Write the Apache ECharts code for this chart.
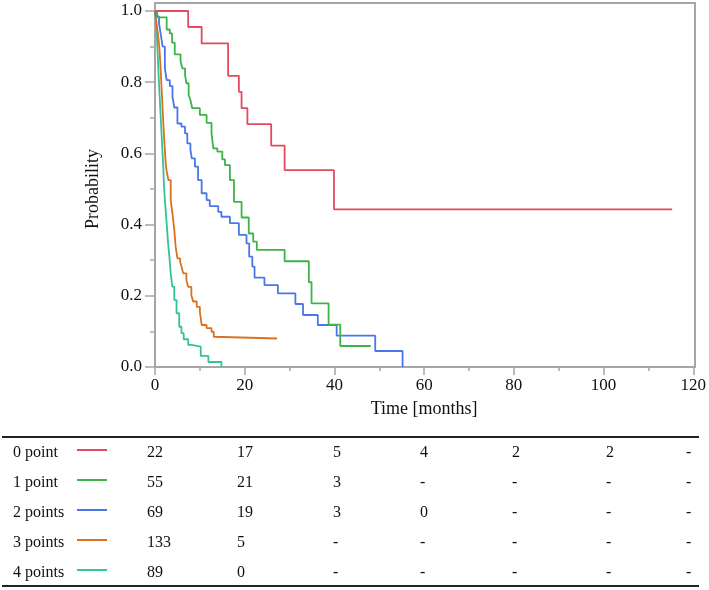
<!DOCTYPE html>
<html>
<head>
<meta charset="utf-8">
<script src="https://cdn.jsdelivr.net/npm/echarts@6/dist/echarts.min.js"></script>
<style>
  html, body { margin: 0; padding: 0; background: #fff; }
  #chart { width: 709px; height: 590px; }
</style>
</head>
<body>
<div id="chart"></div>
<script>
// Kaplan-Meier steps: [months, probability]
const km0 = [[0, 1], [7.4, 0.955], [10.4, 0.909], [16.3, 0.818], [18.7, 0.773], [19.3, 0.727], [20.6, 0.682],
  [25.9, 0.622], [28.9, 0.553], [39.9, 0.443], [115.3, 0.443]]
const km1 = [[0, 1], [0.5, 0.982], [2.6, 0.948], [3.3, 0.937], [3.8, 0.911], [4.4, 0.878], [5.7, 0.858], [6.1, 0.839],
  [6.7, 0.820], [7.0, 0.797], [7.5, 0.764], [7.9, 0.750], [8.3, 0.727], [10.0, 0.708], [11.5, 0.686], [12.6, 0.656],
  [13.0, 0.614], [13.9, 0.605], [15.0, 0.583], [15.6, 0.567], [16.7, 0.525], [17.6, 0.464], [19.3, 0.420],
  [20.9, 0.375], [21.9, 0.352], [22.7, 0.329], [28.9, 0.297], [34.3, 0.238], [34.9, 0.179], [38.7, 0.119],
  [41.3, 0.059], [48.1, 0.059]]
const km2 = [[0, 1], [0.4, 0.985], [0.9, 0.965], [1.3, 0.933], [1.7, 0.900], [2.2, 0.839], [2.6, 0.806], [3.3, 0.789],
  [3.9, 0.759], [4.3, 0.729], [5.0, 0.684], [5.9, 0.675], [6.7, 0.656], [7.2, 0.628], [7.9, 0.610], [8.2, 0.586],
  [8.9, 0.563], [9.6, 0.525], [10.4, 0.488], [11.5, 0.469], [12.2, 0.452], [14.1, 0.436], [14.8, 0.422],
  [16.7, 0.404], [18.7, 0.371], [20.4, 0.347], [21.0, 0.310], [21.7, 0.282], [22.2, 0.251], [24.4, 0.230],
  [27.4, 0.207], [31.3, 0.177], [33.0, 0.146], [36.3, 0.118], [40.5, 0.088], [49.1, 0.045], [55.2, 0]]
const km3 = [[0, 1], [0.2, 0.98], [0.4, 0.96], [0.6, 0.94], [0.8, 0.92], [1.0, 0.89], [1.2, 0.85], [1.4, 0.80],
  [1.6, 0.75], [1.8, 0.70], [2.0, 0.65], [2.2, 0.61], [2.4, 0.57], [2.6, 0.55], [3.0, 0.525], [3.5, 0.469],
  [3.9, 0.431], [4.3, 0.385], [4.6, 0.338], [5.0, 0.305], [5.6, 0.296], [5.9, 0.282], [6.3, 0.263], [7.0, 0.244],
  [7.4, 0.225], [8.1, 0.202], [8.5, 0.184], [9.3, 0.169], [10.0, 0.155], [10.4, 0.118], [11.5, 0.109],
  [12.6, 0.099], [13.1, 0.085], [13.3, 0.080], [27.2, 0.080]]
const km4 = [[0, 1], [0.2, 0.97], [0.4, 0.93], [0.6, 0.88], [0.8, 0.82], [1.0, 0.77], [1.2, 0.72], [1.4, 0.67],
  [1.6, 0.62], [1.85, 0.56], [2.0, 0.51], [2.2, 0.469], [2.6, 0.404], [2.9, 0.35], [3.2, 0.31], [3.5, 0.263],
  [3.85, 0.226], [4.3, 0.188], [4.8, 0.151], [5.4, 0.113], [5.9, 0.095], [6.4, 0.078], [7.4, 0.062], [8.1, 0.057],
  [10.2, 0.031], [11.9, 0.014], [14.8, 0]]

const groups = ['0 point', '1 point', '2 points', '3 points', '4 points']
const colors = ['#e34a5e', '#3db34a', '#4a76e8', '#dc7020', '#33c39a']
// numbers at risk at 0, 20, 40, ... 120 months
const atRisk = [
  ['22', '17', '5', '4', '2', '2', '-'],
  ['55', '21', '3', '-', '-', '-', '-'],
  ['69', '19', '3', '0', '-', '-', '-'],
  ['133', '5', '-', '-', '-', '-', '-'],
  ['89', '0', '-', '-', '-', '-', '-']
]

const font = 'Liberation Serif'
const gray = '#a6a6a6'
const curves = [km0, km1, km2, km3, km4]

// table under the chart
const colX = [147, 237, 333, 420, 512, 606, 686]
const graphic = [
  { type: 'line', shape: { x1: 2, y1: 437, x2: 699, y2: 437 }, style: { stroke: '#222', lineWidth: 2 } },
  { type: 'line', shape: { x1: 2, y1: 586, x2: 699, y2: 586 }, style: { stroke: '#222', lineWidth: 2 } }
]
groups.forEach((g, i) => {
  const y = 453 + i * 30
  graphic.push({ type: 'text', x: 13, y: y, style: { text: g, font: '16px "' + font + '"', fill: '#111', verticalAlign: 'middle' } })
  graphic.push({ type: 'line', shape: { x1: 77, y1: y - 3, x2: 107, y2: y - 3 }, style: { stroke: colors[i], lineWidth: 2 } })
  atRisk[i].forEach((v, j) => {
    graphic.push({ type: 'text', x: colX[j], y: y, style: { text: v, font: '16px "' + font + '"', fill: '#111', verticalAlign: 'middle' } })
  })
})

const chart = echarts.init(document.getElementById('chart'))
chart.setOption({
  animation: false,
  textStyle: { fontFamily: font },
  grid: [
    { left: 155, right: 14, top: 11, bottom: 223 },
    { left: 155, right: 14, top: 3, bottom: 223, show: true, borderColor: gray, borderWidth: 2 }
  ],
  xAxis: [
    {
      type: 'value',
      min: 0,
      max: 120,
      interval: 20,
      name: 'Time [months]',
      nameLocation: 'middle',
      nameGap: 33,
      nameTextStyle: { fontSize: 18, color: '#111', fontFamily: font },
      splitLine: { show: false },
      axisLine: { lineStyle: { color: gray, width: 2 } },
      axisTick: { length: 8, lineStyle: { color: gray, width: 1.5 } },
      minorTick: { show: true, splitNumber: 2, length: 4, lineStyle: { color: gray, width: 1.5 } },
      axisLabel: { fontSize: 17, color: '#111', margin: 10, fontFamily: font }
    },
    { type: 'value', gridIndex: 1, show: false, min: 0, max: 1 }
  ],
  yAxis: [
    {
      type: 'value',
      min: 0,
      max: 1,
      interval: 0.2,
      name: 'Probability',
      nameLocation: 'middle',
      nameGap: 53,
      nameTextStyle: { fontSize: 18, color: '#111', fontFamily: font },
      splitLine: { show: false },
      axisLine: { lineStyle: { color: gray, width: 2 } },
      axisTick: { length: 10, lineStyle: { color: gray, width: 1.5 } },
      minorTick: { show: true, splitNumber: 2, length: 5, lineStyle: { color: gray, width: 1.5 } },
      axisLabel: { fontSize: 17, color: '#111', margin: 13, fontFamily: font, formatter: v => v.toFixed(1) }
    },
    { type: 'value', gridIndex: 1, show: false, min: 0, max: 1 }
  ],
  series: curves.map((d, i) => ({
    name: groups[i],
    type: 'line',
    step: 'end',
    data: d,
    symbol: 'none',
    clip: false,
    lineStyle: { color: colors[i], width: 1.8 },
    z: 10 - i
  })),
  graphic: graphic
})
</script>
</body>
</html>
